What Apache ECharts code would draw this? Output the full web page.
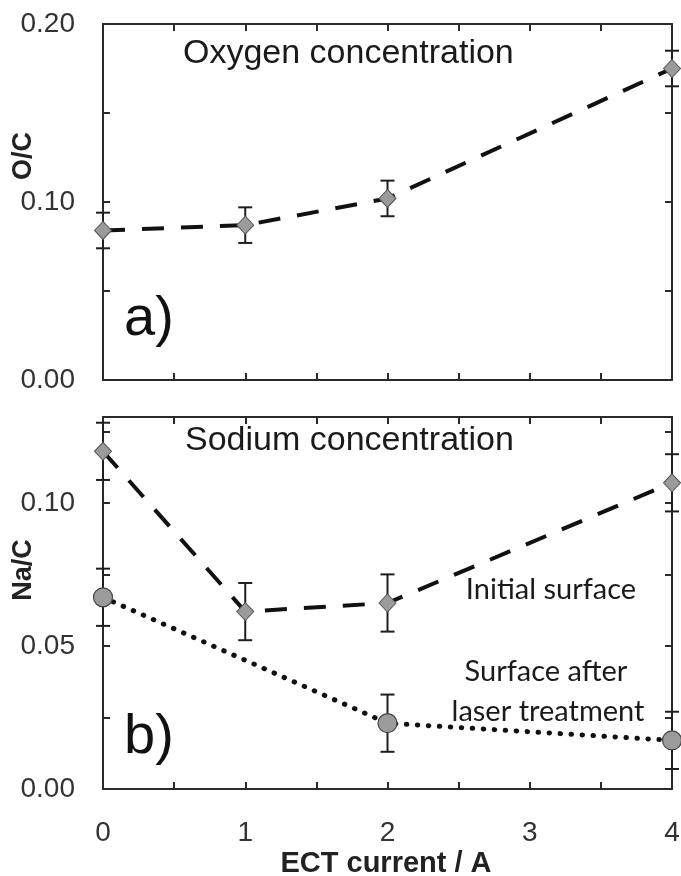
<!DOCTYPE html>
<html>
<head>
<meta charset="utf-8">
<script src="https://cdn.jsdelivr.net/npm/echarts@6/dist/echarts.min.js"></script>
<style>
  html, body { margin: 0; padding: 0; background: #fff; }
  #chart { width: 681px; height: 876px; }
</style>
</head>
<body>
<div id="chart"></div>
<script>
// ECT current (A) at which each sample was measured
const currents = [0, 1, 2, 4];
const laserCurrents = [0, 2, 4];

// a) oxygen to carbon ratio
const oxygenRatio = [0.084, 0.087, 0.102, 0.175];
const oxygenErr = [0.010, 0.010, 0.010, 0.010];

// b) sodium to carbon ratio, initial surface
const sodiumInitial = [0.118, 0.062, 0.065, 0.107];
const sodiumInitialErr = [0.010, 0.010, 0.010, 0.010];

// b) sodium to carbon ratio, surface after laser treatment
const sodiumLaser = [0.067, 0.023, 0.017];
const sodiumLaserErr = [0.010, 0.010, 0.010];

// axis ticks
const xTickLabels = [0, 1, 2, 3, 4];
const topTickLabels = [0.00, 0.10, 0.20];
const bottomTickLabels = [0.00, 0.05, 0.10];

const SANS = '"Liberation Sans", Arial, Helvetica, sans-serif';
const NOTE = 'Lato, "Open Sans", sans-serif';
const AXIS_COLOR = '#2a2a2a';

const pairs = (xs, ys) => xs.map((x, i) => [x, ys[i]]);
const errRows = (xs, ys, es) => xs.map((x, i) => [x, ys[i] - es[i], ys[i] + es[i]]);

function errorBar(params, api) {
  const x = api.value(0);
  const lo = api.coord([x, api.value(1)]);
  const hi = api.coord([x, api.value(2)]);
  const w = 7;
  const st = { stroke: '#1e1e1e', lineWidth: 2 };
  return {
    type: 'group',
    children: [
      { type: 'line', shape: { x1: lo[0], y1: lo[1], x2: hi[0], y2: hi[1] }, style: st },
      { type: 'line', shape: { x1: lo[0] - w, y1: lo[1], x2: lo[0] + w, y2: lo[1] }, style: st },
      { type: 'line', shape: { x1: hi[0] - w, y1: hi[1], x2: hi[0] + w, y2: hi[1] }, style: st }
    ]
  };
}

function xAxisDef(gridIndex, position, showLabels) {
  return {
    type: 'value', gridIndex, position, min: 0, max: 4, interval: 0.5,
    axisLine: { show: true, onZero: false, lineStyle: { color: AXIS_COLOR, width: 2 } },
    axisTick: { show: true, inside: true, length: 7, lineStyle: { color: AXIS_COLOR, width: 2 } },
    splitLine: { show: false },
    axisLabel: {
      show: showLabels, margin: 30, fontFamily: SANS, fontSize: 28, color: '#333',
      formatter: v => (xTickLabels.includes(v) ? String(v) : '')
    }
  };
}

function yAxisDef(gridIndex, position, max, interval, labels, showLabels) {
  return {
    type: 'value', gridIndex, position, min: 0, max, interval,
    axisLine: { show: true, onZero: false, lineStyle: { color: AXIS_COLOR, width: 2 } },
    axisTick: { show: true, inside: true, length: 7, lineStyle: { color: AXIS_COLOR, width: 2 } },
    splitLine: { show: false },
    axisLabel: {
      show: showLabels, margin: 28, fontFamily: SANS, fontSize: 28, color: '#333',
      showMaxLabel: true,
      formatter: v => (labels.some(t => Math.abs(t - v) < 1e-9) ? v.toFixed(2) : '')
    }
  };
}

const diamond = {
  symbol: 'diamond', symbolSize: [17, 18],
  itemStyle: { color: '#9b9b9b', borderColor: '#555', borderWidth: 1 }
};
const circle = {
  symbol: 'circle', symbolSize: 19,
  itemStyle: { color: '#9b9b9b', borderColor: '#444', borderWidth: 1.2 }
};
const dashed = { color: '#111', width: 4, type: [22, 17] };
const dotted = { color: '#111', width: 5, type: [0.5, 10.5], cap: 'round' };

const chart = echarts.init(document.getElementById('chart'), null, { renderer: 'canvas' });

chart.setOption({
  animation: false,
  backgroundColor: '#fff',
  grid: [
    { left: 103, right: 9, top: 24, height: 356, outerBoundsMode: 'none' },
    { left: 103, right: 9, top: 417, height: 372, outerBoundsMode: 'none' }
  ],
  xAxis: [
    xAxisDef(0, 'bottom', false),
    xAxisDef(0, 'top', false),
    xAxisDef(1, 'bottom', true),
    xAxisDef(1, 'top', false)
  ],
  yAxis: [
    yAxisDef(0, 'left', 0.20, 0.05, topTickLabels, true),
    yAxisDef(0, 'right', 0.20, 0.05, topTickLabels, false),
    yAxisDef(1, 'left', 0.13, 0.025, bottomTickLabels, true),
    yAxisDef(1, 'right', 0.13, 0.025, bottomTickLabels, false)
  ],
  series: [
    {
      type: 'custom', name: 'O/C error', xAxisIndex: 0, yAxisIndex: 0,
      renderItem: errorBar, encode: { x: 0, y: [1, 2] }, clip: false, z: 2,
      data: errRows(currents, oxygenRatio, oxygenErr)
    },
    {
      type: 'line', name: 'O/C', xAxisIndex: 0, yAxisIndex: 0, clip: false, z: 3,
      data: pairs(currents, oxygenRatio), lineStyle: dashed, ...diamond
    },
    {
      type: 'custom', name: 'Initial surface error', xAxisIndex: 2, yAxisIndex: 2,
      renderItem: errorBar, encode: { x: 0, y: [1, 2] }, clip: false, z: 2,
      data: errRows(currents, sodiumInitial, sodiumInitialErr)
    },
    {
      type: 'line', name: 'Initial surface', xAxisIndex: 2, yAxisIndex: 2, clip: false, z: 3,
      data: pairs(currents, sodiumInitial), lineStyle: dashed, ...diamond
    },
    {
      type: 'custom', name: 'Laser treated error', xAxisIndex: 2, yAxisIndex: 2,
      renderItem: errorBar, encode: { x: 0, y: [1, 2] }, clip: false, z: 2,
      data: errRows(laserCurrents, sodiumLaser, sodiumLaserErr)
    },
    {
      type: 'line', name: 'Surface after laser treatment', xAxisIndex: 2, yAxisIndex: 2, clip: false, z: 3,
      data: pairs(laserCurrents, sodiumLaser), lineStyle: dotted, ...circle
    }
  ],
  graphic: [
    { type: 'text', left: 183, top: 37, style: { text: 'Oxygen concentration', font: '34px ' + SANS, fill: '#1a1a1a' } },
    { type: 'text', left: 124, top: 292, style: { text: 'a)', font: '56px ' + SANS, fill: '#111' } },
    { type: 'text', left: 185, top: 424, style: { text: 'Sodium concentration', font: '34px ' + SANS, fill: '#1a1a1a' } },
    { type: 'text', left: 124, top: 710, style: { text: 'b)', font: '56px ' + SANS, fill: '#111' } },
    { type: 'text', x: 551, y: 590, style: { text: 'Initial surface', font: '29px ' + NOTE, fill: '#1a1a1a', align: 'center', verticalAlign: 'middle' } },
    { type: 'text', x: 546, y: 672, style: { text: 'Surface after', font: '29px ' + NOTE, fill: '#1a1a1a', align: 'center', verticalAlign: 'middle' } },
    { type: 'text', x: 548, y: 712, style: { text: 'laser treatment', font: '29px ' + NOTE, fill: '#1a1a1a', align: 'center', verticalAlign: 'middle' } },
    { type: 'text', x: 24, y: 156, rotation: Math.PI / 2, style: { text: 'O/C', font: 'bold 27px ' + SANS, fill: '#222', align: 'center', verticalAlign: 'middle' } },
    { type: 'text', x: 24, y: 570, rotation: Math.PI / 2, style: { text: 'Na/C', font: 'bold 27px ' + SANS, fill: '#222', align: 'center', verticalAlign: 'middle' } },
    { type: 'text', x: 386, y: 864, style: { text: 'ECT current / A', font: 'bold 29px ' + SANS, fill: '#222', align: 'center', verticalAlign: 'middle' } }
  ]
});
</script>
</body>
</html>
